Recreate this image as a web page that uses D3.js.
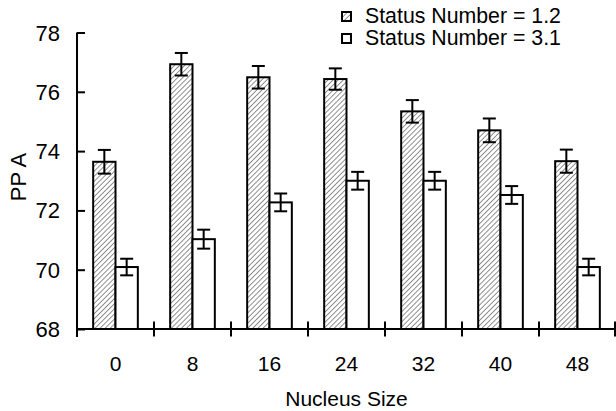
<!DOCTYPE html>
<html>
<head>
<meta charset="utf-8">
<script src="https://cdn.jsdelivr.net/npm/d3@7"></script>
<style>
  body { margin: 0; background: #fff; }
  text { font-family: "Liberation Sans", Arial, sans-serif; fill: #000; }
</style>
</head>
<body>
<div id="chart"></div>
<script>
var width = 616;
var height = 411;

// data
var sizes = ["0", "8", "16", "24", "32", "40", "48"];
var seriesNames = ["Status Number = 1.2", "Status Number = 3.1"];
var ppaLow = [73.64, 76.93, 76.49, 76.43, 75.34, 74.70, 73.66];   // status number 1.2
var errLow = [0.40, 0.38, 0.38, 0.36, 0.38, 0.40, 0.39];
var ppaHigh = [70.09, 71.03, 72.27, 73.00, 73.00, 72.52, 70.09];  // status number 3.1
var errHigh = [0.28, 0.32, 0.30, 0.30, 0.30, 0.30, 0.28];
var yTicks = [68, 70, 72, 74, 76, 78];

var padL = 77, padR = 616, padT = 32.5, padB = 329;

var svg = d3.select("#chart").append("svg")
    .attr("width", width)
    .attr("height", height);

// hatch pattern for the 1.2 series
var defs = svg.append("defs");
defs.append("pattern")
    .attr("id", "hatch")
    .attr("patternUnits", "userSpaceOnUse")
    .attr("width", 3.6)
    .attr("height", 3.6)
    .attr("patternTransform", "rotate(45)")
    .call(function (p) {
        p.append("rect").attr("width", 3.6).attr("height", 3.6).attr("fill", "#fff");
        p.append("line")
            .attr("x1", 0).attr("y1", 0)
            .attr("x2", 0).attr("y2", 3.6)
            .attr("stroke", "#555")
            .attr("stroke-width", 1.3);
    });

var x = d3.scaleBand().domain(sizes).range([padL, padR]).padding(0);
var y = d3.scaleLinear().domain([68, 78]).range([padB, padT]);
var barW = x.bandwidth() * 0.29;

var groups = [
    { vals: ppaLow, errs: errLow, fill: "url(#hatch)", off: -barW },
    { vals: ppaHigh, errs: errHigh, fill: "#fff", off: 0 }
];

groups.forEach(function (g) {
    var rows = sizes.map(function (s, i) { return { s: s, v: g.vals[i], e: g.errs[i] }; });
    var sel = svg.append("g").selectAll("g").data(rows).enter().append("g");
    sel.append("rect")
        .attr("x", function (d) { return x(d.s) + x.bandwidth() / 2 + g.off; })
        .attr("y", function (d) { return y(d.v); })
        .attr("width", barW)
        .attr("height", function (d) { return y(68) - y(d.v); })
        .attr("fill", g.fill)
        .attr("stroke", "#000")
        .attr("stroke-width", 2);
    // error bars
    var cx = function (d) { return x(d.s) + x.bandwidth() / 2 + g.off + barW / 2; };
    sel.append("line")
        .attr("x1", cx).attr("x2", cx)
        .attr("y1", function (d) { return y(d.v + d.e); })
        .attr("y2", function (d) { return y(d.v - d.e); })
        .attr("stroke", "#000").attr("stroke-width", 2);
    [1, -1].forEach(function (sg) {
        sel.append("line")
            .attr("x1", function (d) { return cx(d) - 6.5; })
            .attr("x2", function (d) { return cx(d) + 6.5; })
            .attr("y1", function (d) { return y(d.v + sg * d.e); })
            .attr("y2", function (d) { return y(d.v + sg * d.e); })
            .attr("stroke", "#000").attr("stroke-width", 2);
    });
});

// y axis, ticks pointing inward
var yAxis = svg.append("g")
    .attr("transform", "translate(" + padL + ",0)")
    .call(d3.axisRight(y).tickValues(yTicks).tickSize(8).tickFormat(""));
yAxis.select(".domain").remove();
yAxis.selectAll("line").attr("stroke", "#000").attr("stroke-width", 2);
svg.append("line")
    .attr("x1", padL).attr("x2", padL)
    .attr("y1", y(78)).attr("y2", padB + 8)
    .attr("stroke", "#000").attr("stroke-width", 2);
svg.append("g").selectAll("text").data(yTicks).enter().append("text")
    .attr("x", 60)
    .attr("y", function (d) { return y(d) + 8; })
    .attr("text-anchor", "end")
    .style("font-size", "22px")
    .text(function (d) { return d; });

// x axis: ticks at group boundaries, crossing the line
svg.append("line")
    .attr("x1", padL).attr("x2", padR)
    .attr("y1", padB).attr("y2", padB)
    .attr("stroke", "#000").attr("stroke-width", 2);
var bounds = sizes.map(function (s) { return x(s); }).concat([padR - 1]);
svg.append("g").selectAll("line").data(bounds).enter().append("line")
    .attr("x1", function (d) { return d; }).attr("x2", function (d) { return d; })
    .attr("y1", padB - 7.5).attr("y2", padB + 7.5)
    .attr("stroke", "#000").attr("stroke-width", 2);
svg.append("g").selectAll("text").data(sizes).enter().append("text")
    .attr("x", function (d) { return x(d) + x.bandwidth() / 2; })
    .attr("y", 371)
    .attr("text-anchor", "middle")
    .style("font-size", "21px")
    .text(function (d) { return d; });

svg.append("text")
    .attr("x", (padL + padR) / 2)
    .attr("y", 406)
    .attr("text-anchor", "middle")
    .style("font-size", "21px")
    .text("Nucleus Size");

svg.append("text")
    .attr("transform", "translate(26,177) rotate(-90)")
    .attr("text-anchor", "middle")
    .style("font-size", "22px")
    .text("PP A");

// legend
var legend = svg.append("g").selectAll("g").data(seriesNames).enter().append("g")
    .attr("transform", function (d, i) { return "translate(342," + (12 + i * 22) + ")"; });
legend.append("rect")
    .attr("width", 9).attr("height", 9)
    .attr("fill", function (d, i) { return i === 0 ? "url(#hatch)" : "#fff"; })
    .attr("stroke", "#000").attr("stroke-width", 2);
legend.append("text")
    .attr("x", 23)
    .attr("y", 11)
    .style("font-size", "21.3px")
    .text(function (d) { return d; });
</script>
</body>
</html>
